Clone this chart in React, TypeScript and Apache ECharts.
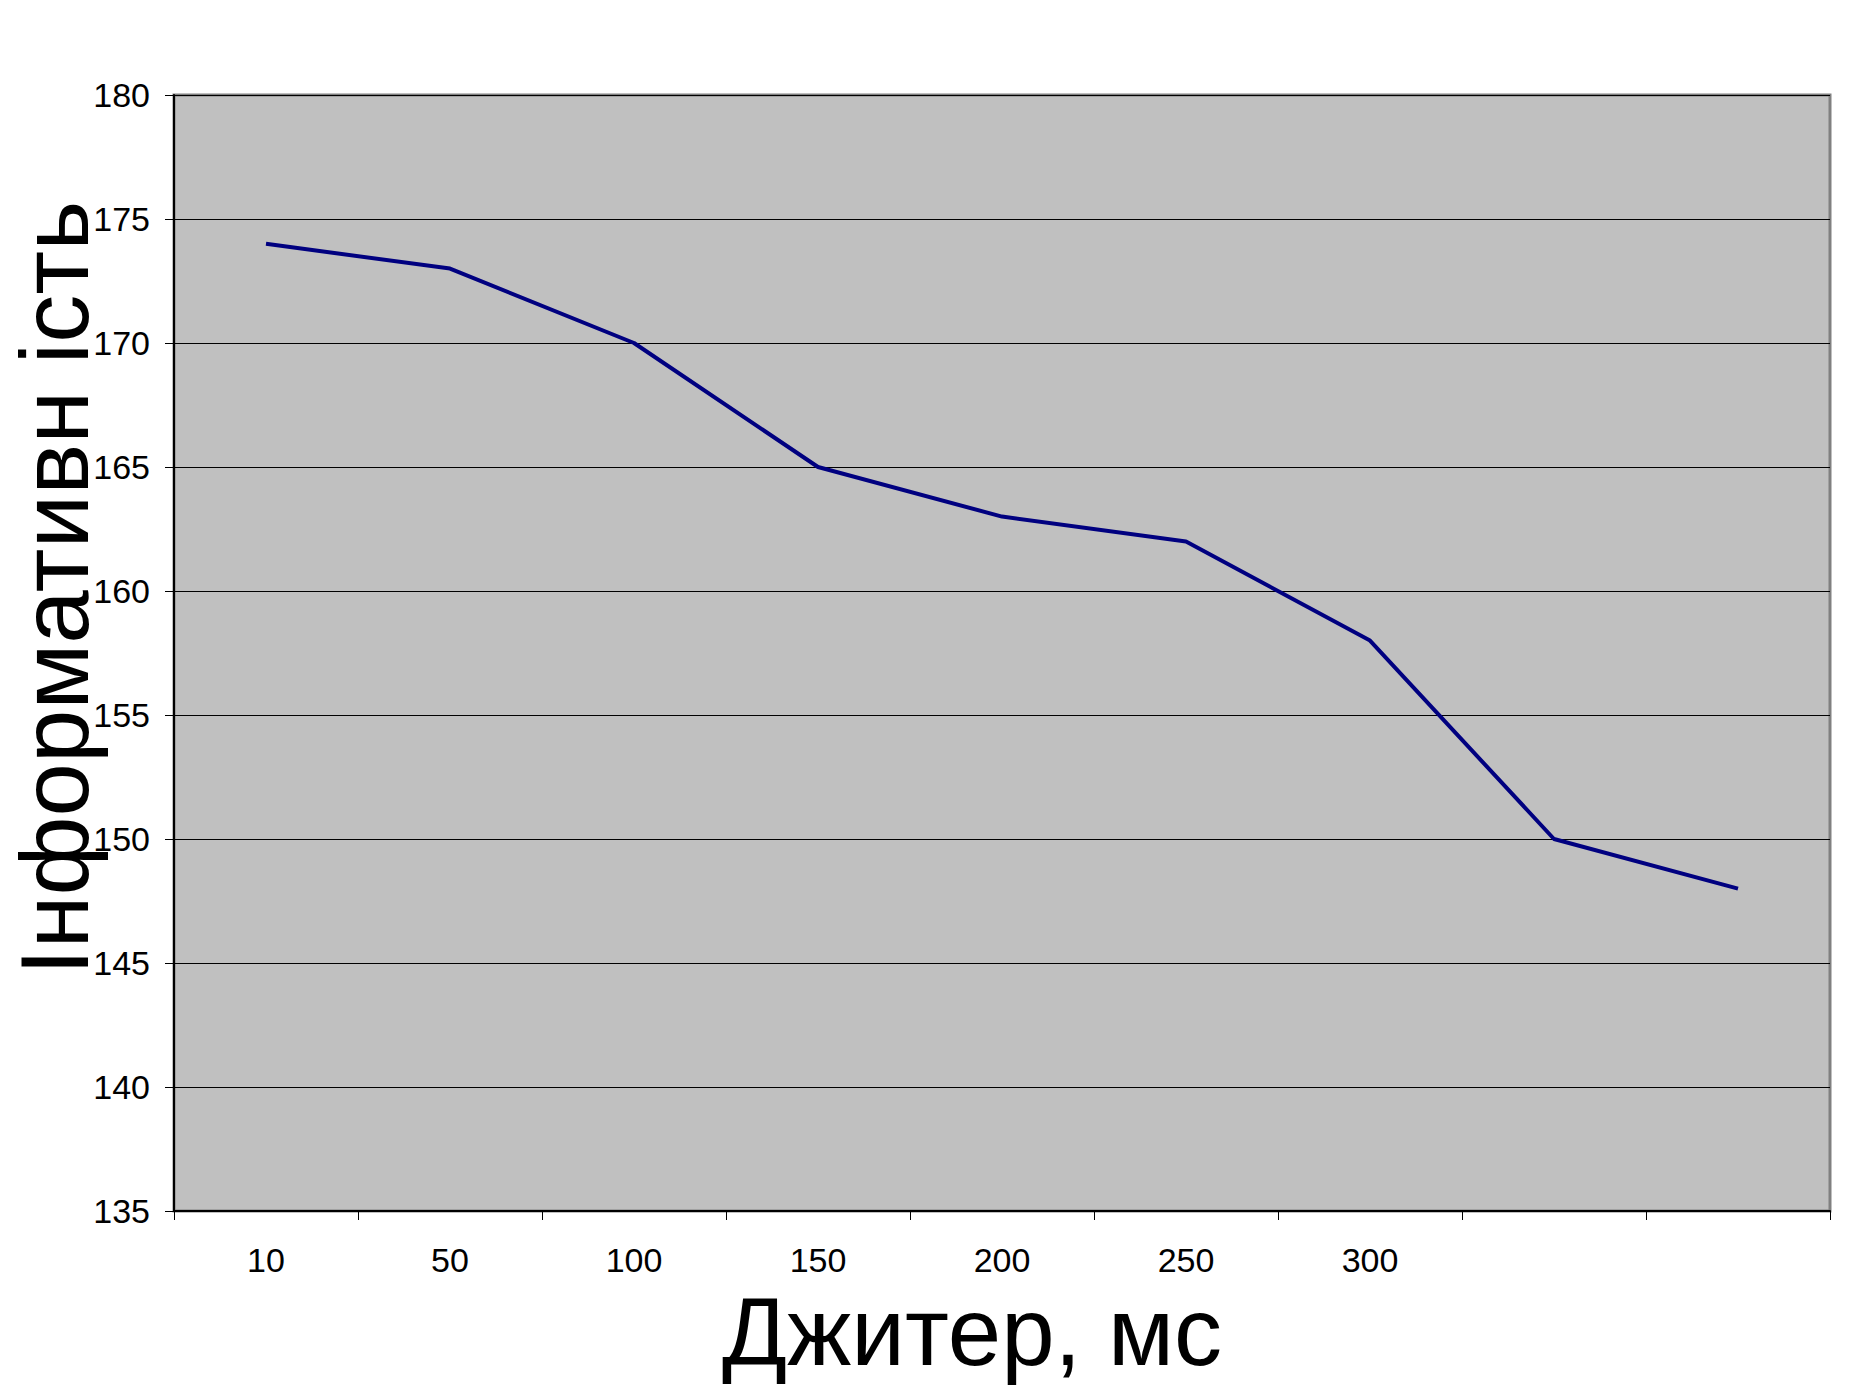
import React, { useEffect, useRef } from "react";
import * as echarts from "echarts";

const categories = ["10", "50", "100", "150", "200", "250", "300", "", ""];
const informativeness = [174, 173, 170, 165, 163, 162, 158, 150, 148];
const yMin = 135;
const yMax = 180;
const yStep = 5;
const xTitle = "Джитер, мс";
const yTitle = "Інформативн ість";

const FONT = "'Liberation Sans', Arial, sans-serif";

export default function App() {
  const ref = useRef<HTMLDivElement>(null);
  useEffect(() => {
    document.body.style.margin = "0";
    if (!ref.current) return;
    const chart = echarts.init(ref.current, null, { renderer: "svg" });
    chart.setOption({
      animation: false,
      backgroundColor: "#ffffff",
      grid: {
        left: 174,
        right: 33,
        top: 95,
        bottom: 184,
        show: true,
        backgroundColor: "#C0C0C0",
        borderColor: "#808080",
        borderWidth: 3,
      },
      xAxis: {
        type: "category",
        data: categories,
        boundaryGap: true,
        axisLine: { show: true, lineStyle: { color: "#000", width: 2 } },
        axisTick: { show: true, length: 9, lineStyle: { color: "#000", width: 1 }, interval: 0 },
        axisLabel: {
          interval: 0,
          margin: 32,
          color: "#000",
          fontSize: 34,
          fontFamily: FONT,
        },
        splitLine: { show: false },
      },
      yAxis: {
        type: "value",
        min: yMin,
        max: yMax,
        interval: yStep,
        axisLine: { show: true, lineStyle: { color: "#000", width: 2 } },
        axisTick: { show: true, length: 9, lineStyle: { color: "#000", width: 1 } },
        axisLabel: {
          margin: 24,
          color: "#000",
          fontSize: 34,
          fontFamily: FONT,
        },
        splitLine: { show: true, lineStyle: { color: "#000", width: 1 } },
      },
      graphic: [
        {
          type: "text",
          x: 54,
          y: 588,
          rotation: Math.PI / 2,
          style: {
            text: yTitle,
            font: `96px ${FONT}`,
            lineHeight: 84,
            fill: "#000",
            align: "center",
            verticalAlign: "middle",
          },
        },
        {
          type: "text",
          x: 972,
          y: 1331,
          style: {
            text: xTitle,
            font: `96px ${FONT}`,
            fill: "#000",
            align: "center",
            verticalAlign: "middle",
          },
        },
      ],
      series: [
        {
          type: "line",
          data: informativeness,
          symbol: "none",
          lineStyle: { color: "#000080", width: 4 },
        },
      ],
    });
    return () => chart.dispose();
  }, []);
  return <div ref={ref} style={{ width: 1863, height: 1395 }} />;
}
